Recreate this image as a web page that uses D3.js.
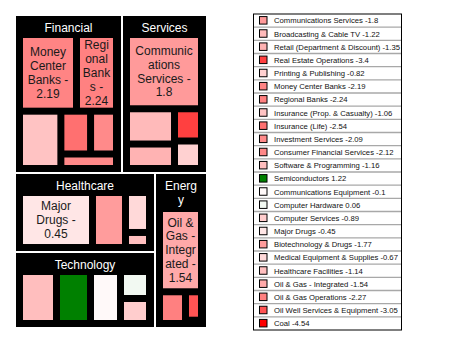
<!DOCTYPE html>
<html><head><meta charset="utf-8">
<script src="https://cdn.jsdelivr.net/npm/d3@7"></script>
<style>
body{margin:0;background:#fff}
svg{display:block}
text{font-family:"Liberation Sans",Arial,sans-serif}
</style>
</head><body>
<svg id="c" width="460" height="345"></svg>
<script>
// ---- data (legend order) ----
const sectors = ["Services", "Financial", "Technology", "Healthcare", "Energy"];
const industries = [
  "Communications Services", "Broadcasting & Cable TV", "Retail (Department & Discount)",
  "Real Estate Operations", "Printing & Publishing",
  "Money Center Banks", "Regional Banks", "Insurance (Prop. & Casualty)", "Insurance (Life)",
  "Investment Services", "Consumer Financial Services",
  "Software & Programming", "Semiconductors", "Communications Equipment", "Computer Hardware",
  "Computer Services",
  "Major Drugs", "Biotechnology & Drugs", "Medical Equipment & Supplies", "Healthcare Facilities",
  "Oil & Gas - Integrated", "Oil & Gas Operations", "Oil Well Services & Equipment", "Coal"
];
const industrySector = [
  "Services", "Services", "Services", "Services", "Services",
  "Financial", "Financial", "Financial", "Financial", "Financial", "Financial",
  "Technology", "Technology", "Technology", "Technology", "Technology",
  "Healthcare", "Healthcare", "Healthcare", "Healthcare",
  "Energy", "Energy", "Energy", "Energy"
];
const changes = [
  -1.8, -1.22, -1.35, -3.4, -0.82,
  -2.19, -2.24, -1.06, -2.54, -2.09, -2.12,
  -1.16, 1.22, -0.1, 0.06, -0.89,
  -0.45, -1.77, -0.67, -1.14,
  -1.54, -2.27, -3.05, -4.54
];
// relative sizes (estimated from tile areas)
const sizes = [
  7443, 2262, 1570, 1163, 992,
  5684, 3990, 3085, 1654, 1444, 1050,
  3028, 2783, 2455, 1232, 1141,
  6211, 2808, 1484, 558,
  5837, 1376, 759, 88
];

const svg = d3.select("#c");
const FONT = "Liberation Sans, Arial, sans-serif";
const meas = svg.append("text").attr("x", -1000).attr("y", -1000).style("font-family", FONT);
function measure(str, size) { meas.attr("font-size", size).text(str); return meas.node().getComputedTextLength(); }

function wrap(label, maxW, size) {
  const words = [];
  label.split(" ").forEach(w => {
    const m = w.match(/^-(\d.*)$/);
    if (m) { words.push({t: "-", sp: true}); words.push({t: m[1], sp: false}); }
    else words.push({t: w, sp: true});
  });
  const lines = []; let cur = "";
  words.forEach(w => {
    const cand = cur === "" ? w.t : cur + (w.sp ? " " : "") + w.t;
    if (measure(cand, size) <= maxW) { cur = cand; return; }
    if (cur !== "") { lines.push(cur); cur = ""; }
    let rest = w.t;
    while (rest.length > 1 && measure(rest, size) > maxW) {
      let k = 1;
      while (k < rest.length && measure(rest.slice(0, k + 1), size) <= maxW) k++;
      lines.push(rest.slice(0, k)); rest = rest.slice(k);
    }
    cur = rest;
  });
  if (cur) lines.push(cur);
  return lines;
}

const color = d3.scaleLinear()
  .domain([d3.min(changes), 0, d3.max(changes)])
  .range(["#ff0000", "#ffffff", "#008000"]);

// ---- hierarchy ----
const tree = {
  name: "root",
  children: sectors.map(s => ({
    name: s,
    children: industries.map((n, i) => ({name: n, change: changes[i], size: sizes[i], sector: industrySector[i]}))
      .filter(d => d.sector === s)
  }))
};

const TITLE_SIZE = 12, LEAF_SIZE = 12, LH = 13.8;
const root = d3.hierarchy(tree).sum(d => d.size || 0).sort((a, b) => b.value - a.value);

d3.treemap()
  .size([190, 311])
  .tile(d3.treemapSquarify.ratio(1))
  .paddingInner(d => d.depth === 0 ? 2 : 7)
  .paddingLeft(d => d.depth === 0 ? 0 : 7)
  .paddingRight(d => d.depth === 0 ? 0 : 8)
  .paddingBottom(d => d.depth === 0 ? 0 : 7)
  .paddingTop(d => d.depth === 0 ? 0 : 6 + 16 * wrap(d.data.name, (d.x1 - d.x0) - 14, TITLE_SIZE).length)
  (root);

const g = svg.append("g").attr("transform", "translate(16,16)");

// sector boxes
const groups = g.selectAll("g.sector").data(root.children).join("g").attr("class", "sector");
groups.append("rect")
  .attr("x", d => d.x0).attr("y", d => d.y0)
  .attr("width", d => d.x1 - d.x0).attr("height", d => d.y1 - d.y0)
  .attr("fill", "#000");
groups.each(function(d) {
  const lines = wrap(d.data.name, (d.x1 - d.x0) - 14, TITLE_SIZE);
  const t = d3.select(this).append("text")
    .attr("fill", "#fff").attr("font-size", TITLE_SIZE).attr("text-anchor", "middle");
  lines.forEach((l, i) => t.append("tspan")
    .attr("x", (d.x0 + d.x1) / 2).attr("y", d.y0 + 15.8 + i * LH).text(l));
});

// leaves
const leaves = g.selectAll("g.leaf").data(root.leaves()).join("g").attr("class", "leaf");
leaves.append("rect")
  .attr("x", d => d.x0).attr("y", d => d.y0)
  .attr("width", d => Math.max(0, d.x1 - d.x0)).attr("height", d => Math.max(0, d.y1 - d.y0))
  .attr("fill", d => color(d.data.change));
leaves.each(function(d) {
  const w = d.x1 - d.x0, h = d.y1 - d.y0;
  if (w < 8 || h < 8) return;
  const lines = wrap(d.data.name + " " + d.data.change, w - 4, LEAF_SIZE);
  if (lines.length * LH > h) return;
  const y0 = d.y0 + (h - lines.length * LH) / 2 + 11;
  const t = d3.select(this).append("text")
    .attr("fill", "#1a1a1a").attr("font-size", LEAF_SIZE).attr("text-anchor", "middle");
  lines.forEach((l, i) => t.append("tspan")
    .attr("x", (d.x0 + d.x1) / 2).attr("y", y0 + i * LH).text(l));
});

// ---- legend ----
const LX = 253.5, LY = 14, LW = 148, rowH = (330 - 14) / industries.length;
const leg = svg.append("g");
const rowY = d3.scaleBand().domain(d3.range(industries.length)).range([LY, LY + rowH * industries.length]);
leg.selectAll("line.sep").data(d3.range(1, industries.length)).join("line")
  .attr("x1", LX).attr("x2", LX + LW)
  .attr("y1", i => rowY(i)).attr("y2", i => rowY(i))
  .attr("stroke", "#a8a8a8").attr("stroke-width", 1.3);
const rows = leg.selectAll("g.row").data(industries).join("g").attr("class", "row");
rows.append("rect")
  .attr("x", 259.5).attr("y", (d, i) => rowY(i) + rowH / 2 - 4)
  .attr("width", 7.5).attr("height", 7.5)
  .attr("fill", (d, i) => color(changes[i]))
  .attr("stroke", "#000").attr("stroke-width", 1);
rows.append("text")
  .attr("x", 274).attr("y", (d, i) => rowY(i) + rowH / 2 + 2.8)
  .attr("font-size", 7.7).attr("fill", "#111")
  .text((d, i) => d + " " + changes[i]);
leg.append("rect")
  .attr("x", LX).attr("y", LY).attr("width", LW).attr("height", rowH * industries.length)
  .attr("fill", "none").attr("stroke", "#000").attr("stroke-width", 1);
meas.remove();
</script>
</body></html>
